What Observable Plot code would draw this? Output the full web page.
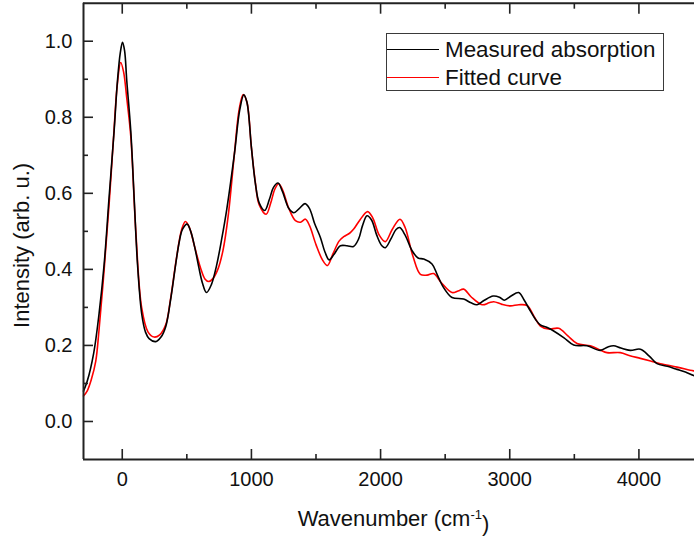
<!DOCTYPE html>
<html>
<head>
<meta charset="utf-8">
<script src="https://cdn.jsdelivr.net/npm/d3@7"></script>
<script src="https://cdn.jsdelivr.net/npm/@observablehq/plot@0.6"></script>
<style>
  html, body { margin: 0; padding: 0; background: #fff; }
  #wrap { position: relative; width: 694px; height: 539px; overflow: hidden; font-family: "Liberation Sans", Arial, sans-serif; }
  #legend { position: absolute; left: 386px; top: 33px; width: 276px; height: 56px; border: 1px solid #3a3a3a; background: #fff; }
  #legend .ln { position: absolute; left: 0; width: 52px; height: 0; }
  #legend .tx { position: absolute; left: 58px; font-size: 22.4px; line-height: 22px; color: #111; white-space: nowrap; }
</style>
</head>
<body>
<div id="wrap"></div>
<script>
// Measured absorption (black): wavenumber, intensity
const measuredX = [-300,-272,-221,-179,-140,-102,-63,-37,-15,2,18,35,66,92,118,151,180,208,259,300,337,373,414,440,466,502,530,560,590,620,652,690,730,770,810,868,910,941,965,1000,1031,1060,1103,1140,1170,1206,1240,1290,1328,1370,1415,1450,1490,1534,1570,1602,1640,1689,1740,1790,1830,1860,1895,1930,1970,2010,2037,2080,2120,2148,2190,2244,2290,2334,2398,2440,2488,2553,2643,2700,2747,2800,2871,2920,2958,3010,3069,3110,3159,3200,3237,3290,3340,3420,3495,3598,3701,3760,3804,3860,3933,4011,4080,4140,4220,4295,4360,4430,4500];
const measuredY = [0.08,0.105,0.18,0.285,0.414,0.589,0.764,0.896,0.97,0.997,0.975,0.896,0.764,0.589,0.414,0.282,0.235,0.218,0.21,0.222,0.25,0.317,0.414,0.47,0.505,0.519,0.50,0.46,0.41,0.365,0.339,0.36,0.41,0.48,0.56,0.703,0.82,0.859,0.84,0.72,0.625,0.575,0.555,0.585,0.615,0.627,0.605,0.56,0.549,0.56,0.573,0.56,0.52,0.484,0.445,0.425,0.44,0.462,0.462,0.46,0.48,0.515,0.541,0.53,0.49,0.462,0.457,0.48,0.505,0.51,0.49,0.449,0.43,0.427,0.414,0.385,0.352,0.326,0.322,0.312,0.307,0.318,0.33,0.327,0.319,0.33,0.339,0.32,0.291,0.268,0.254,0.247,0.238,0.22,0.201,0.199,0.187,0.196,0.199,0.193,0.187,0.19,0.172,0.152,0.145,0.137,0.13,0.12,0.115];

// Fitted curve (red)
const fittedX = [-300,-272,-240,-205,-180,-140,-100,-63,-40,-12,10,35,66,105,150,200,247,290,337,373,420,460,489,520,560,605,640,670,700,740,780,820,868,905,936,965,1000,1030,1060,1114,1150,1180,1210,1240,1290,1341,1380,1418,1450,1500,1550,1588,1630,1680,1715,1760,1792,1840,1900,1940,1990,2037,2090,2150,2190,2250,2308,2360,2411,2470,2553,2600,2643,2700,2786,2840,2876,2940,3005,3070,3134,3190,3237,3300,3379,3450,3521,3624,3700,3753,3856,3930,4011,4090,4166,4295,4423,4500];
const fittedY = [0.067,0.08,0.11,0.159,0.24,0.40,0.58,0.77,0.88,0.944,0.92,0.85,0.75,0.50,0.30,0.235,0.222,0.228,0.255,0.32,0.43,0.505,0.526,0.51,0.46,0.405,0.375,0.368,0.375,0.40,0.45,0.54,0.703,0.82,0.86,0.84,0.72,0.63,0.57,0.545,0.575,0.61,0.625,0.61,0.56,0.528,0.524,0.532,0.515,0.465,0.425,0.41,0.44,0.475,0.486,0.495,0.506,0.53,0.552,0.535,0.49,0.473,0.505,0.532,0.51,0.435,0.387,0.385,0.389,0.365,0.339,0.343,0.348,0.328,0.307,0.312,0.315,0.308,0.304,0.307,0.305,0.275,0.251,0.243,0.245,0.225,0.205,0.199,0.188,0.181,0.181,0.173,0.166,0.159,0.152,0.143,0.133,0.128];

const xMajor = [0, 1000, 2000, 3000, 4000];
const xMinor = [500, 1500, 2500, 3500];
const yMajor = [0.0, 0.2, 0.4, 0.6, 0.8, 1.0];
const yMinor = [0.1, 0.3, 0.5, 0.7, 0.9];
const xDomain = [-300, 4500];
const yDomain = [-0.1, 1.1];
const xTitle = "Wavenumber (cm-1)";
const yTitle = "Intensity (arb. u.)";
const seriesNames = ["Measured absorption", "Fitted curve"];
const seriesColors = ["#000000", "#ff0000"];

const measured = measuredX.map((x, i) => ({x, y: measuredY[i]}));
const fitted = fittedX.map((x, i) => ({x, y: fittedY[i]}));

const axisColor = "#222";
const font = "Liberation Sans, Arial, sans-serif";

const chart = Plot.plot({
  width: 694,
  height: 539,
  marginLeft: 83,
  marginRight: 0,
  marginTop: 2.7,
  marginBottom: 80,
  style: {fontFamily: font, color: "#111", background: "#fff", overflow: "hidden"},
  x: {domain: xDomain, range: [83, 703]},
  y: {domain: yDomain},
  marks: [
    Plot.line(fitted, {x: "x", y: "y", stroke: seriesColors[1], strokeWidth: 1.6, curve: "catmull-rom"}),
    Plot.line(measured, {x: "x", y: "y", stroke: seriesColors[0], strokeWidth: 1.6, curve: "catmull-rom"}),
    // frame
    Plot.ruleY(yDomain, {stroke: axisColor, strokeWidth: 2}),
    Plot.ruleX(xDomain, {stroke: axisColor, strokeWidth: 2}),
    // axes
    Plot.axisX({anchor: "bottom", ticks: xMajor, tickSize: -10, tickPadding: 22.5, fontSize: 20, tickFormat: d => String(d), stroke: axisColor, strokeWidth: 1.6, label: null}),
    Plot.axisX({anchor: "bottom", ticks: xMinor, tickSize: -5, text: null, stroke: axisColor, strokeWidth: 1.6, label: null}),
    Plot.axisX({anchor: "top", ticks: xMajor, tickSize: -10, text: null, stroke: axisColor, strokeWidth: 1.6, label: null}),
    Plot.axisX({anchor: "top", ticks: xMinor, tickSize: -5, text: null, stroke: axisColor, strokeWidth: 1.6, label: null}),
    Plot.axisY({anchor: "left", ticks: yMajor, tickSize: -10, tickPadding: 21, fontSize: 20, tickFormat: d => d.toFixed(1), stroke: axisColor, strokeWidth: 1.6, label: null}),
    Plot.axisY({anchor: "left", ticks: yMinor, tickSize: -5, text: null, stroke: axisColor, strokeWidth: 1.6, label: null}),
    // titles
    Plot.text([xTitle], {frameAnchor: "bottom", dx: 4.5, dy: 66.5, lineAnchor: "bottom", textAnchor: "middle", fontSize: 22, fill: "#111"}),
    Plot.text([yTitle], {frameAnchor: "left", dx: -55, dy: 14, lineAnchor: "bottom", textAnchor: "middle", rotate: -90, fontSize: 22, fill: "#111"})
  ]
});

// superscript on the x title
chart.querySelectorAll("text").forEach(t => {
  if (t.textContent === xTitle) {
    t.textContent = "";
    const ns = "http://www.w3.org/2000/svg";
    const a = document.createElementNS(ns, "tspan"); a.textContent = "Wavenumber (cm";
    const s = document.createElementNS(ns, "tspan"); s.textContent = "-1"; s.setAttribute("dy", "-0.55em"); s.setAttribute("font-size", "13");
    const b = document.createElementNS(ns, "tspan"); b.textContent = ")"; b.setAttribute("dy", "0.55em");
    t.append(a, s, b);
  }
});

const wrap = document.getElementById("wrap");
wrap.appendChild(chart);

const legend = document.createElement("div");
legend.id = "legend";
const rows = [{top: 15, ttop: 4.5}, {top: 43, ttop: 32.5}];
seriesNames.forEach((name, i) => {
  const ln = document.createElement("div");
  ln.className = "ln";
  ln.style.top = rows[i].top + "px";
  ln.style.borderTop = "1.6px solid " + seriesColors[i];
  const tx = document.createElement("div");
  tx.className = "tx";
  tx.style.top = rows[i].ttop + "px";
  tx.textContent = name;
  legend.append(ln, tx);
});
wrap.appendChild(legend);
</script>
</body>
</html>
